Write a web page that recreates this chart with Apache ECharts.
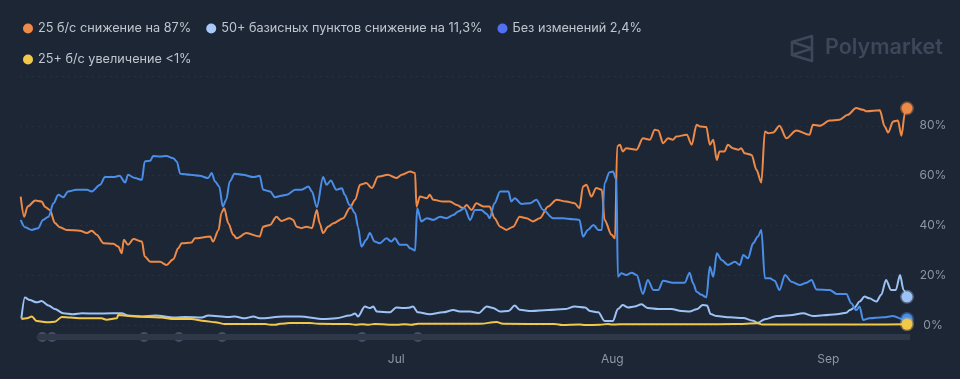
<!DOCTYPE html>
<html><head><meta charset="utf-8">
<script src="https://cdn.jsdelivr.net/npm/echarts@6/dist/echarts.min.js"></script>
<style>html,body{margin:0;padding:0;background:#1d2635;}#c{width:960px;height:379px;}</style>
</head><body><div id="c"></div>
<script>
// ---- data ----
const startDate = Date.UTC(2024, 4, 8); // day 0
const endDay = 127.3;
const seriesNames = ['25 б/с снижение на 87%', '50+ базисных пунктов снижение на 11,3%', 'Без изменений 2,4%', '25+ б/с увеличение <1%'];

const cut25Days = [0.1,0.6,1.1,2.2,3.1,3.6,4.3,5.0,5.7,6.7,8.6,9.6,10.3,11.0,12.0,13.4,14.1,14.6,14.9,15.5,16.3,17.5,17.9,18.7,20.1,21.0,22.0,22.7,23.2,24.6,25.1,27.3,27.7,28.5,28.9,29.3,29.9,30.6,31.1,32.5,34.4,34.9,35.9,36.8,37.5,38.7,39.2,39.7,40.4,41.1,41.9,42.6,43.0,43.5,44.2,45.0,46.4,47.3,48.1,48.8,49.7,50.5,51.4,52.8,54.0,54.8,56.0,56.7,56.9,57.4,58.4,58.8,59.3,60.7,61.7,62.7,63.6,64.1,64.8,65.5,66.5,67.4,68.1,68.9,69.8,70.8,71.7,72.7,73.6,74.6,75.8,77.0,78.4,79.6,80.3,80.8,81.3,82.0,82.7,83.5,83.9,84.9,85.4,85.7,86.1,86.5,87.0,88.5,89.4,90.4,91.1,91.6,92.3,93.0,93.7,94.2,95.7,96.4,97.1,97.6,98.5,99.0,99.5,100.0,100.4,101.1,101.6,102.3,103.1,103.5,104.0,105.0,105.7,106.4,106.9,107.4,108.1,109.0,110.0,111.4,113.3,113.8,114.8,116.2,117.6,118.8,120.0,121.0,121.5,123.4,124.1,124.6,125.3,126.0,126.5,127.0,127.3];
const cut25Vals = [51.6,43.5,47.6,50,49.6,47.4,46.2,41,39.3,38.2,37.9,36.9,37.9,36.2,32.8,32.6,31.5,28.8,34.2,32.2,34.5,33.5,27.5,25.4,25.4,24.1,26.4,30.8,32.8,33.1,34.8,35.5,33.5,38.2,44.9,46.9,40.9,36.2,34.8,36.9,35.5,39.5,40.2,43.5,41.8,42.9,42.2,39.5,38.9,39.5,38.9,46.2,40.9,36.9,39.5,40.9,42.9,46.9,50.3,56.3,57,55,59.6,60.3,59,60.3,61.6,61,47.6,51.6,50.9,52.3,50.3,49.6,49.6,48.2,46.9,48.2,46.2,48.9,47.6,47.6,42.9,39.5,38.2,39.5,43.5,42.9,41.6,42.9,47.6,50.3,49.6,48.9,46.9,55.6,56.3,51.6,55,54.3,42.2,36.2,34.8,71.7,72.4,69.7,71,70.4,75,74.4,78.4,78.1,73,75,74.4,75.7,76.4,72.4,80.4,79.7,79.5,72.4,74.4,66.3,69.7,69.7,72.4,71,70.4,71,69,68.3,62.3,57.2,77.7,77,77.3,80,75,78.1,76.4,80.4,80,82.1,82.4,84.4,87.1,86.4,85.8,86.2,79.7,77.3,81.7,82.1,76,85.1,87];

const cut50Days = [0.2,0.7,1.4,2.4,3.1,4.1,5.0,6.2,7.6,8.9,10.8,13.2,14.6,15.5,17.5,19.4,22.2,23.7,26.1,27.0,29.9,30.8,32.3,33.5,34.4,37.8,40.2,43.5,45.4,47.3,48.1,48.5,49.5,50.2,50.7,51.2,53.1,54.0,55.0,55.7,56.4,57.1,58.8,60.7,62.2,63.1,64.6,65.8,67.0,67.9,68.9,70.1,71.0,71.7,73.4,75.8,78.2,79.6,81.1,81.8,83.0,83.9,85.1,85.8,86.5,87.3,88.2,89.2,90.1,91.6,93.5,94.9,96.1,97.1,98.0,98.6,99.1,100.0,101.9,103.8,105.2,105.9,106.9,108.6,110.5,112.4,113.8,115.3,117.2,118.6,119.1,119.8,120.5,121.2,121.9,122.9,123.6,124.3,125.0,125.7,126.3,126.8,127.3];
const cut50Vals = [2.7,11,10,9.1,9.6,7.8,6.4,4.7,4.3,4.7,4.6,4.7,4.7,3.8,3.4,3.8,3,3.2,3,3.8,3.2,3.4,2.7,3.4,2.7,3.4,3.4,2.4,2.7,3.8,4.6,3.4,7.4,6.8,7.4,5.4,5.1,7,6.8,6.9,7.4,5.1,4.3,5.1,6,5.4,5.4,4.8,7.4,6.8,5.4,5.6,7.8,6.1,5.6,6,6.4,7.4,7,5.6,5.1,1.6,1.6,6.4,8,7,7.4,8.3,6.8,6.4,6.4,5.6,5.4,6.3,8,7.8,4.4,3.6,3.1,2.8,1.7,0.9,2.3,3.6,3.9,4.7,3.6,3.9,4.3,4.9,6,7.1,9.4,11.4,10.7,9.4,12.1,18.1,14.1,14.1,20.1,14.1,11.3];

const holdDays = [0.1,0.7,1.7,2.6,3.3,4.1,4.8,5.5,6.2,6.9,8.1,9.6,10.3,11.5,12.2,13.4,14.3,15.1,15.5,16.5,17.5,17.9,18.7,19.1,20.1,21.0,22.0,22.5,23.0,24.4,25.8,27.0,27.5,28.0,28.6,29.1,29.6,30.1,30.8,32.0,33.5,34.4,34.9,35.9,36.6,37.5,38.3,39.5,40.4,41.4,41.9,42.6,43.5,44.0,44.6,45.4,46.2,46.6,47.3,48.1,48.5,49.0,49.7,50.2,50.9,51.6,52.6,53.3,53.8,54.5,55.5,56.0,56.7,57.0,57.6,58.4,59.3,60.3,61.2,62.2,62.9,63.8,64.6,65.3,66.2,67.0,67.4,68.1,68.9,70.1,70.5,71.0,72.0,73.2,74.1,75.1,76.5,77.9,79.4,80.3,80.8,81.5,82.3,83.0,83.5,83.9,84.6,85.1,85.6,85.8,86.3,87.0,87.8,88.5,89.4,90.1,90.9,91.6,92.3,93.7,95.4,96.1,96.6,97.1,97.8,98.5,99.0,99.5,100.0,100.7,101.6,102.6,103.3,103.8,104.5,105.2,105.9,106.4,106.9,107.6,108.3,109.0,109.8,110.7,111.9,112.9,113.6,114.3,116.2,117.2,118.6,119.3,120.0,120.5,121.0,121.9,123.9,125.3,126.7,127.3];
const holdVals = [42.2,39.3,38.2,38.9,42.2,43.5,48.9,52.3,51.3,53.6,54.3,54.3,53.6,56.3,59.4,59.4,59.9,57.2,60.3,59,58.3,65.7,66,67.9,67.7,67.9,67,65.7,60.7,60.3,59.9,59,61,57.6,55.6,47.6,50.3,57.6,60.7,60.3,59.4,59.9,54.3,53.6,51.3,51.9,52.3,54.3,54.3,55.6,53.6,47.3,59.4,56.3,58,54.3,54.9,52.3,48.2,44.9,39.5,31.5,34.2,36.9,33.5,32.8,34.8,33.5,34.8,32.2,32.2,30.8,29.9,46.9,41.6,42.9,42.2,43.5,42.9,44.2,45.6,46.9,42.2,46.2,46.2,44.6,42.9,48.9,53.6,53.6,49.6,50.9,48.6,48.9,50.3,46.2,42.9,42.9,42.5,42.2,35.5,38.2,40.2,38.2,38.2,57,61.3,61.6,58.3,19.4,20.8,20.1,21,20.1,12.5,18.1,14.1,14.1,17.8,17,17,21,16.8,13.4,12.1,11.1,23.4,19.4,28.8,26.1,24.1,25.4,24.1,28.1,26.8,32.8,35.5,38.2,18.8,18.8,17.8,14.1,20.1,17.4,16.1,17,18.1,14.3,14.1,12.5,12.5,8.7,6,7.4,2,2.7,3.1,3.6,2.3,2.4];

const hikeDays = [0.2,1.0,1.7,2.4,4.1,5.0,6.0,7.2,8.9,11.7,12.4,13.9,14.1,16.5,18.4,20.3,21.8,24.6,26.5,28.0,29.4,32.3,35.2,35.9,36.7,37.3,38.7,41.6,42.8,47.3,48.1,49.1,50.0,50.9,54.1,55.2,56.2,57.1,60.3,66.0,68.4,69.3,76.8,77.8,80.3,81.1,83.2,84.4,84.9,86.1,97.6,102.6,105.9,106.5,111.9,121.9,127.3];
const hikeVals = [2.4,2.7,3.4,1.6,1.1,1.3,3.2,3,2.7,2.7,2.1,2.7,4,3.4,3.2,3,2.4,2.4,1.6,1.1,0.4,0.4,0.4,0.1,0.1,0.5,0.8,0.8,0.5,0.4,0.1,0.3,0.1,0.4,0.1,0.3,0.1,0.5,0.5,0.5,1.2,0.5,0.4,0.0,0.2,0.0,0.1,0.4,0.2,0.3,0.3,0.4,0.7,0.2,0.2,0.2,0.3];

const xTickDates = ['2024-07-01', '2024-08-01', '2024-09-01'];
const xTickLabels = ['Jul', 'Aug', 'Sep'];
const yTickStep = 20;
const eventDays = [3.2, 4.6, 17.8, 22.8, 29.0, 49.1, 57.1];
const trackDays = [2.8, 128.0];

const colors = ['#ee8a48', '#9dc3f6', '#4b8ee8', '#f2c84b'];
const legendColors = ['#ee8a48', '#a9c9f7', '#5271f0', '#f2c84b'];

// ---- build ----
const DAY = 86400000;
const t = d => startDate + d * DAY;
const pairs = (ds, vs) => ds.map((d, i) => [t(d), vs[i]]);
const allDays = [cut25Days, cut50Days, holdDays, hikeDays];
const allVals = [cut25Vals, cut50Vals, holdVals, hikeVals];
const tickTimes = xTickDates.map(s => Date.parse(s + 'T00:00:00Z'));

function hexA(hex, a) {
  const n = parseInt(hex.slice(1), 16);
  return 'rgba(' + (n >> 16 & 255) + ',' + (n >> 8 & 255) + ',' + (n & 255) + ',' + a + ')';
}

const lineSeries = seriesNames.map((name, i) => {
  const ds = allDays[i], vs = allVals[i];
  return {
    name, type: 'line', xAxisIndex: 0, yAxisIndex: 0,
    data: pairs(ds, vs),
    showSymbol: false, symbol: 'circle',
    smooth: 0.3, smoothMonotone: 'x',
    lineStyle: { width: 2, color: colors[i] },
    itemStyle: { color: colors[i] },
    z: 3,
    emphasis: { disabled: true },
    markPoint: {
      symbol: 'circle', symbolSize: 11, silent: true, animation: false,
      itemStyle: { color: colors[i], borderColor: hexA(colors[i], 0.4), borderWidth: 3 },
      label: { show: false },
      data: [{ coord: [t(ds[ds.length - 1]), vs[vs.length - 1]] }]
    }
  };
});

const legendText = { color: '#c0c6cf', fontSize: 12.7, fontFamily: 'Inter, "Noto Sans", sans-serif' };
const legendItem = i => ({ name: seriesNames[i], itemStyle: { color: legendColors[i] } });

const option = {
  backgroundColor: '#1d2635',
  animation: false,
  legend: [
    { data: [0, 1, 2].map(legendItem), left: 18, top: 17, icon: 'circle', itemWidth: 10, itemHeight: 10, itemGap: 15, textStyle: legendText, selectedMode: false },
    { data: [3].map(legendItem), left: 18, top: 48, icon: 'circle', itemWidth: 10, itemHeight: 10, itemGap: 15, textStyle: legendText, selectedMode: false }
  ],
  grid: [
    { left: 20, right: 53, top: 76, bottom: 54 },
    { left: 20, right: 53, top: 333, height: 8 }
  ],
  xAxis: [
    {
      type: 'value', gridIndex: 0, min: t(0), max: t(endDay),
      axisLine: { show: false }, axisTick: { show: false }, splitLine: { show: false },
      axisLabel: {
        customValues: tickTimes, margin: 28, color: '#8c96a6', fontSize: 12,
        fontFamily: 'Inter, "Noto Sans", sans-serif',
        formatter: v => { const k = tickTimes.indexOf(+v); return k >= 0 ? xTickLabels[k] : ''; }
      }
    },
    { type: 'value', gridIndex: 1, min: t(0), max: t(endDay), show: false }
  ],
  yAxis: [
    {
      type: 'value', gridIndex: 0, position: 'right', min: 0, max: 100, interval: yTickStep,
      axisLine: { show: false }, axisTick: { show: false },
      splitLine: { show: true, lineStyle: { color: '#27303e', type: [2, 4], width: 1 } },
      axisLabel: {
        align: 'center', margin: 26, color: '#8c96a6', fontSize: 12,
        fontFamily: 'Inter, "Noto Sans", sans-serif',
        formatter: v => v >= 100 ? '' : v + '%'
      }
    },
    { type: 'value', gridIndex: 1, min: -1, max: 1, show: false }
  ],
  graphic: [
    {
      type: 'polyline', silent: true,
      shape: { points: [[792, 42], [812, 36], [812, 61], [792, 55], [792, 42], [812, 48.5], [792, 55]] },
      style: { stroke: '#3c4759', lineWidth: 2.6, fill: null, lineJoin: 'round' }
    },
    {
      type: 'text', x: 825, y: 48, silent: true,
      style: { text: 'Polymarket', fill: '#3c4759', font: '600 21.5px Inter, "Noto Sans", sans-serif', verticalAlign: 'middle' }
    }
  ],
  series: [
    {
      type: 'line', xAxisIndex: 1, yAxisIndex: 1, silent: true, clip: false,
      data: trackDays.map(d => [t(d), 0]), symbol: 'none',
      lineStyle: { color: '#2e3848', width: 6, cap: 'round' }
    },
    {
      type: 'scatter', xAxisIndex: 1, yAxisIndex: 1, silent: true,
      data: eventDays.map(d => [t(d), 0]), symbolSize: 10,
      itemStyle: { color: '#4f5a6c' }
    },
    ...lineSeries
  ]
};

const chart = echarts.init(document.getElementById('c'), null, { renderer: 'canvas' });
chart.setOption(option);
</script>
</body></html>
